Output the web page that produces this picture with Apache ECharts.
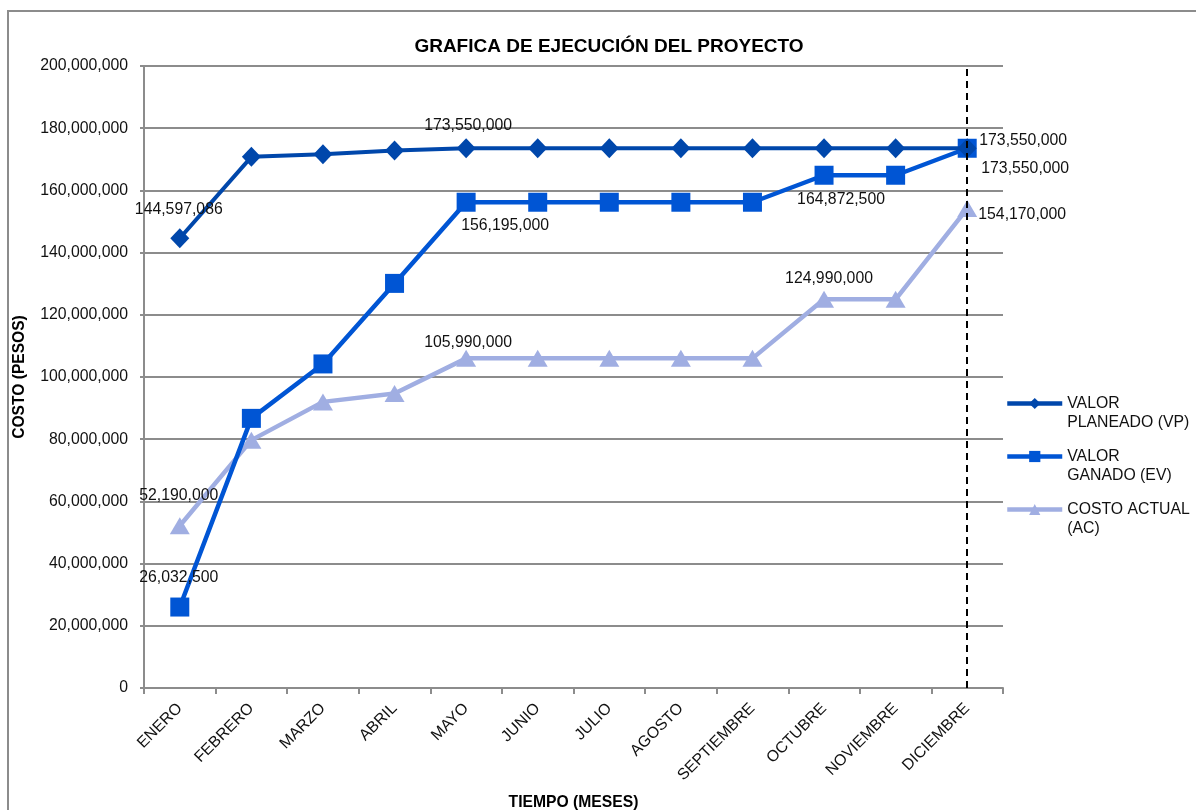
<!DOCTYPE html>
<html>
<head>
<meta charset="utf-8">
<script src="https://cdn.jsdelivr.net/npm/echarts@6/dist/echarts.min.js"></script>
<style>
  html, body { margin: 0; padding: 0; background: #fff; }
  #chart { width: 1196px; height: 810px; }
</style>
</head>
<body>
<div id="chart"></div>
<script>
const MONTHS = ['ENERO', 'FEBRERO', 'MARZO', 'ABRIL', 'MAYO', 'JUNIO', 'JULIO', 'AGOSTO', 'SEPTIEMBRE', 'OCTUBRE', 'NOVIEMBRE', 'DICIEMBRE'];
const SERIES_NAMES = ['VALOR\nPLANEADO (VP)', 'VALOR\nGANADO (EV)', 'COSTO ACTUAL\n(AC)'];

const plannedValue = [144597086, 170800000, 171600000, 172800000, 173550000, 173550000, 173550000, 173550000, 173550000, 173550000, 173550000, 173550000];
const earnedValue = [26032500, 86700000, 104200000, 130100000, 156195000, 156195000, 156195000, 156195000, 156195000, 164872500, 164872500, 173550000];
const actualCost = [52190000, 79700000, 92000000, 94700000, 105990000, 105990000, 105990000, 105990000, 105990000, 124990000, 124990000, 154170000];

const Y_MIN = 0;
const Y_MAX = 200000000;
const Y_STEP = 20000000;
const CUT_OFF_MONTH = 'DICIEMBRE';

const COLORS = ['#0047ab', '#0055d4', '#a0aee2'];

// which points carry a value label, and where the label sits (px offset from the point)
const VP_LABELS = { 0: [-1, -29], 4: [2, -23], 11: [56, -8] };
const EV_LABELS = { 0: [-1, -29], 4: [39, 23], 9: [17, 24], 11: [58, 20] };
const AC_LABELS = { 0: [-1, -30], 4: [2, -16], 9: [5, -21], 11: [55, 6] };

const font = 'Liberation Sans, Arial, sans-serif';
const TXT = 15.8;
const fmt = (v) => Number(v).toLocaleString('en-US');

function withLabels(values, labels) {
  return values.map((v, i) => {
    if (!labels[i]) return v;
    return {
      value: v,
      label: {
        show: true,
        position: 'inside',
        offset: labels[i],
        formatter: (p) => fmt(p.value),
        color: '#111',
        fontSize: TXT,
        fontFamily: font,
      },
    };
  });
}

const chart = echarts.init(document.getElementById('chart'), null, { renderer: 'canvas' });

const gridColor = '#8c8c8c';

chart.setOption({
  animation: false,
  backgroundColor: '#fff',
  graphic: [
    {
      type: 'rect',
      shape: { x: 8, y: 11, width: 1200, height: 820 },
      style: { fill: 'none', stroke: '#8c8c8c', lineWidth: 2 },
      silent: true,
    },
  ],
  title: {
    text: 'GRAFICA DE EJECUCIÓN DEL PROYECTO',
    left: 604,
    top: 32,
    textAlign: 'center',
    textStyle: { color: '#000', fontSize: 19, fontWeight: 'bold', fontFamily: font },
  },
  grid: { left: 144, right: 193, top: 66, bottom: 122, containLabel: false, outerBoundsMode: 'none' },
  legend: {
    orient: 'vertical',
    left: 1005,
    top: 375,
    padding: 0,
    itemWidth: 55,
    itemHeight: 14,
    itemGap: -4,
    data: SERIES_NAMES.map((n) => ({ name: n, lineStyle: { width: 4.5 } })),
    // empty first line keeps the icon level with the first text line
    formatter: (name) => ' \n' + name,
    textStyle: { color: '#111', fontSize: TXT, fontFamily: font, lineHeight: 19 },
  },
  xAxis: {
    type: 'category',
    data: MONTHS,
    boundaryGap: true,
    name: 'TIEMPO (MESES)',
    nameLocation: 'middle',
    nameGap: 107,
    nameTextStyle: { color: '#000', fontSize: 15.7, fontWeight: 'bold', fontFamily: font },
    axisLine: { lineStyle: { color: gridColor, width: 2 } },
    axisTick: { show: true, length: 6, alignWithLabel: false, lineStyle: { color: gridColor, width: 2 } },
    axisLabel: { rotate: 45, margin: 18, color: '#111', fontSize: TXT, fontFamily: font, interval: 0 },
    splitLine: { show: false },
  },
  yAxis: {
    type: 'value',
    min: Y_MIN,
    max: Y_MAX,
    interval: Y_STEP,
    name: 'COSTO (PESOS)',
    nameLocation: 'middle',
    nameGap: 116,
    nameRotate: 90,
    nameTextStyle: { color: '#000', fontSize: 15.6, fontWeight: 'bold', fontFamily: font },
    axisLine: { show: true, lineStyle: { color: gridColor, width: 2 } },
    axisTick: { show: true, length: 4, lineStyle: { color: gridColor, width: 2 } },
    axisLabel: { margin: 16, color: '#111', fontSize: TXT, fontFamily: font, formatter: (v) => fmt(v) },
    splitLine: { lineStyle: { color: gridColor, width: 2 } },
  },
  series: [
    {
      name: SERIES_NAMES[0],
      type: 'line',
      data: withLabels(plannedValue, VP_LABELS),
      symbol: 'diamond',
      symbolSize: [19, 20],
      lineStyle: { color: COLORS[0], width: 4 },
      itemStyle: { color: COLORS[0] },
      z: 4,
      markLine: {
        silent: true,
        symbol: 'none',
        label: { show: false },
        lineStyle: { color: '#000', type: [7, 5], width: 2 },
        data: [{ xAxis: CUT_OFF_MONTH }],
      },
    },
    {
      name: SERIES_NAMES[1],
      type: 'line',
      data: withLabels(earnedValue, EV_LABELS),
      symbol: 'rect',
      symbolSize: 19,
      lineStyle: { color: COLORS[1], width: 4.5 },
      itemStyle: { color: COLORS[1] },
      z: 3,
    },
    {
      name: SERIES_NAMES[2],
      type: 'line',
      data: withLabels(actualCost, AC_LABELS),
      symbol: 'triangle',
      symbolSize: [20, 17],
      lineStyle: { color: COLORS[2], width: 4.5 },
      itemStyle: { color: COLORS[2] },
      z: 2,
    },
  ],
});
</script>
</body>
</html>
